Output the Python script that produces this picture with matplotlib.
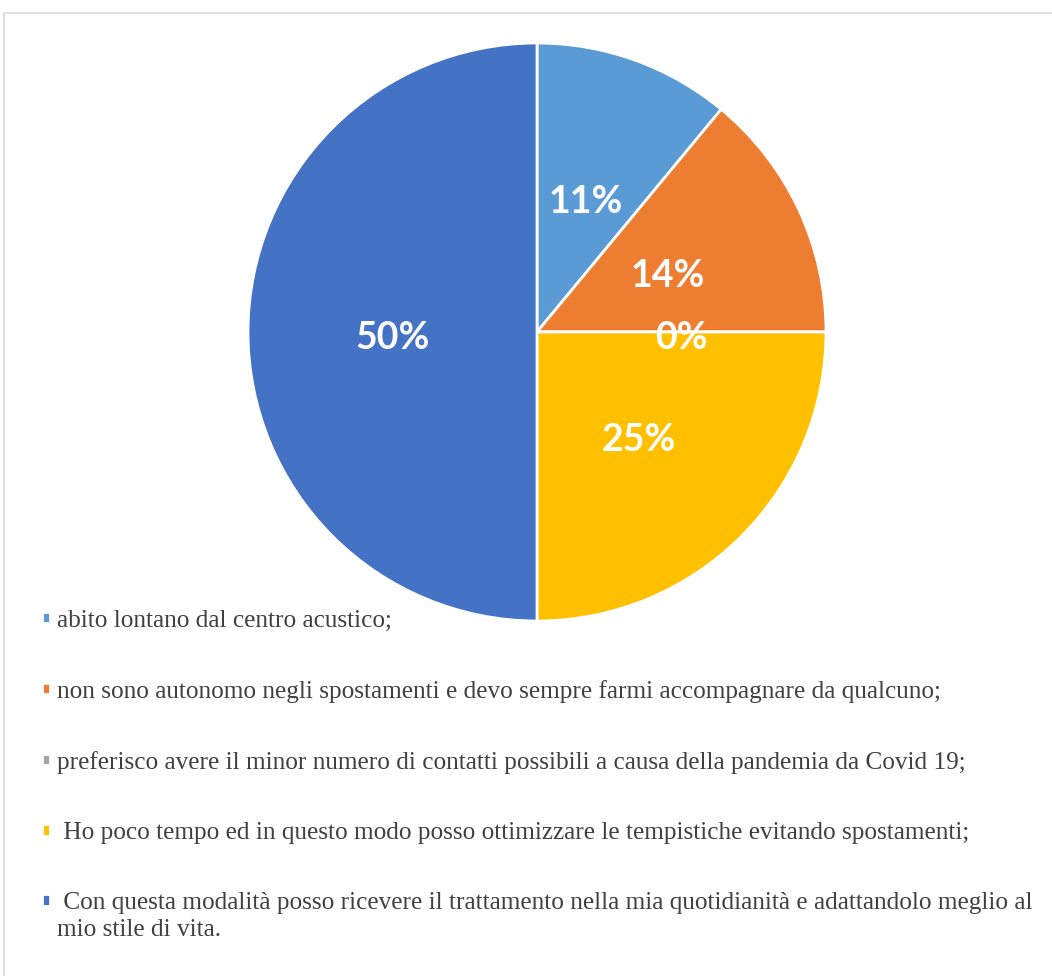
import matplotlib.pyplot as plt
from matplotlib.patches import Rectangle

# dati
labels = [
    "abito lontano dal centro acustico;",
    "non sono autonomo negli spostamenti e devo sempre farmi accompagnare da qualcuno;",
    "preferisco avere il minor numero di contatti possibili a causa della pandemia da Covid 19;",
    " Ho poco tempo ed in questo modo posso ottimizzare le tempistiche evitando spostamenti;",
    " Con questa modalità posso ricevere il trattamento nella mia quotidianità e adattandolo meglio al",
]
label_cont = "mio stile di vita."
values = [11, 14, 0, 25, 50]
colors = ["#5B9BD5", "#ED7D31", "#A5A5A5", "#FFC000", "#4472C4"]

W, H = 1052, 976
fig = plt.figure(figsize=(W / 100, H / 100), dpi=100)

# bordo del grafico
fig.patches.append(Rectangle((4 / W, -0.01), 1.0, 1 - 13 / H + 0.01,
                             transform=fig.transFigure, fill=False,
                             edgecolor="#d9d9d9", linewidth=1.2))

cx, cy, r = 537, 332, 289
ax = fig.add_axes([(cx - r) / W, 1 - (cy + r) / H, 2 * r / W, 2 * r / H])

wedges, _, autotexts = ax.pie(values, colors=colors, startangle=90, counterclock=False,
                              autopct='%1.0f%%', pctdistance=0.5,
                              wedgeprops=dict(edgecolor="white", linewidth=2))
for t in autotexts:
    t.set_color("white")
    t.set_fontsize(27)
    t.set_fontweight("bold")
    t.set_family("Lato")
    x, y = t.get_position()
    t.set_position((x, y - 0.02))
ax.set_aspect("auto")
ax.set_xlim(-1, 1)
ax.set_ylim(-1, 1)

font = {"family": "Liberation Serif", "size": 18.2}
leg = fig.legend(wedges, labels, loc="upper left", bbox_to_anchor=(42 / W, 1 - 610 / H),
                 frameon=False, borderpad=0, borderaxespad=0,
                 handlelength=0.3, handleheight=0.3, handletextpad=0.3,
                 labelspacing=1.9, prop=font, labelcolor="#404040")

# seconda riga dell'ultima voce
fig.canvas.draw()
bb = leg.get_texts()[-1].get_window_extent()
bb0 = leg.get_texts()[0].get_window_extent()
fig.text(bb0.x0 / W, (bb.y0 - 5) / H, label_cont, ha="left", va="top",
         color="#404040", **font)

plt.savefig("out.png", dpi=100)
